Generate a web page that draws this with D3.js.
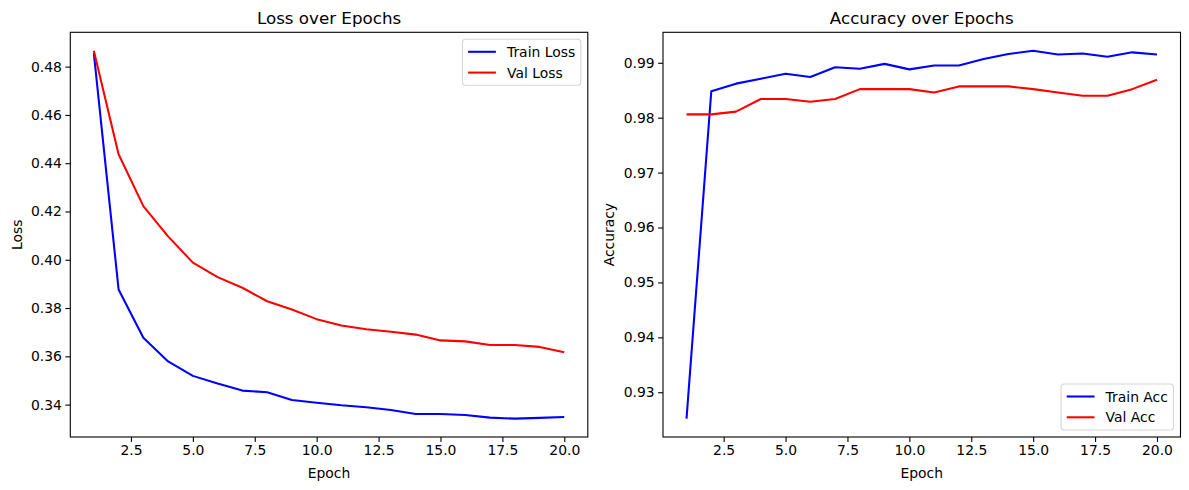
<!DOCTYPE html>
<html>
<head>
<meta charset="utf-8">
<script src="https://cdn.jsdelivr.net/npm/d3@7"></script>
<style>
  html, body { margin: 0; padding: 0; background: #fff; }
  svg { display: block; }
  text { font-family: "DejaVu Sans", sans-serif; fill: #000; }
</style>
</head>
<body>
<svg id="chart" width="1189" height="490"></svg>
<script>
const epochs = [1,2,3,4,5,6,7,8,9,10,11,12,13,14,15,16,17,18,19,20];
const trainLoss = [0.4856,0.3877,0.3677,0.3579,0.3519,0.3487,0.3458,0.3451,0.3419,0.3408,0.3397,0.3389,0.3378,0.3361,0.3361,0.3357,0.3346,0.3342,0.3345,0.3349];
const valLoss   = [0.4866,0.4437,0.4222,0.4097,0.3988,0.3928,0.3884,0.3828,0.3794,0.3754,0.3728,0.3712,0.3702,0.3690,0.3666,0.3662,0.3647,0.3647,0.3639,0.3617];
const trainAcc  = [0.9252,0.9848,0.9862,0.9871,0.9880,0.9874,0.9892,0.9889,0.9898,0.9888,0.9895,0.9895,0.9907,0.9916,0.9922,0.9915,0.9917,0.9911,0.9919,0.9915];
const valAcc    = [0.9806,0.9806,0.9811,0.9834,0.9834,0.9829,0.9834,0.9852,0.9852,0.9852,0.9846,0.9857,0.9857,0.9857,0.9852,0.9846,0.9840,0.9840,0.9852,0.9869];
const epochTicks = [2.5,5.0,7.5,10.0,12.5,15.0,17.5,20.0];
const lossTicks = [0.34,0.36,0.38,0.40,0.42,0.44,0.46,0.48];
const accTicks = [0.93,0.94,0.95,0.96,0.97,0.98,0.99];

const svg = d3.select("#chart");
const FS = 13.9;

function padded(ext) {
  const r = ext[1] - ext[0];
  return [ext[0] - 0.05 * r, ext[1] + 0.05 * r];
}

function panel(cfg) {
  const { left, right, top, bottom } = cfg.box;
  const g = svg.append("g");
  const x = d3.scaleLinear().domain(padded(d3.extent(epochs))).range([left, right]);
  const all = cfg.series.flatMap(s => s.values);
  const y = d3.scaleLinear().domain(padded(d3.extent(all))).range([bottom, top]);

  // lines
  const clipId = "clip" + cfg.id;
  svg.append("clipPath").attr("id", clipId).append("rect")
    .attr("x", left).attr("y", top).attr("width", right - left).attr("height", bottom - top);
  const line = d3.line().x((d, i) => x(epochs[i])).y(d => y(d));
  cfg.series.forEach(s => {
    g.append("path").attr("d", line(s.values)).attr("fill", "none")
      .attr("stroke", s.color).attr("stroke-width", 2.08)
      .attr("stroke-linejoin", "round").attr("stroke-linecap", "butt")
      .attr("clip-path", `url(#${clipId})`);
  });

  // axes
  const xAxis = d3.axisBottom(x).tickValues(epochTicks).tickFormat(d3.format(".1f"))
    .tickSize(4.9).tickPadding(3.5);
  const gx = g.append("g").attr("transform", `translate(0,${bottom})`).call(xAxis);
  const yAxis = d3.axisLeft(y).tickValues(cfg.yTicks).tickFormat(d3.format(".2f"))
    .tickSize(4.9).tickPadding(3.5);
  const gy = g.append("g").attr("transform", `translate(${left},0)`).call(yAxis);
  [gx, gy].forEach(a => {
    a.select(".domain").remove();
    a.selectAll(".tick line").attr("stroke", "#000").attr("stroke-width", 1.1);
    a.selectAll(".tick text").attr("fill", "#000").style("font-size", FS + "px")
      .style("font-family", "'DejaVu Sans', sans-serif");
  });

  // spines
  g.append("rect").attr("x", left).attr("y", top).attr("width", right - left).attr("height", bottom - top)
    .attr("fill", "none").attr("stroke", "#000").attr("stroke-width", 1.1);

  // titles and labels
  g.append("text").attr("x", (left + right) / 2).attr("y", top - 8.5)
    .attr("text-anchor", "middle").style("font-size", "16.7px").text(cfg.title);
  g.append("text").attr("x", (left + right) / 2).attr("y", 477.5)
    .attr("text-anchor", "middle").style("font-size", FS + "px").text("Epoch");
  g.append("text").attr("transform", `translate(${cfg.ylabelX},${(top + bottom) / 2}) rotate(-90)`)
    .attr("text-anchor", "middle").attr("dominant-baseline", "central")
    .style("font-size", FS + "px").text(cfg.ylabel);

  // legend
  const lg = g.append("g");
  const bg = lg.append("rect");
  const texts = cfg.series.map((s, i) => lg.append("text").style("font-size", FS + "px")
    .attr("dominant-baseline", "central").text(s.label));
  const tw = d3.max(texts, t => t.node().getComputedTextLength());
  const pad = 5.6, hl = 27.8, htp = 11.1, rowH = 20.8;
  const w = pad + hl + htp + tw + pad;
  const h = 46;
  const bx = right - 7 - w;
  const by = cfg.legendPos === "upper" ? top + 7 : bottom - 7 - h;
  bg.attr("x", bx).attr("y", by).attr("width", w).attr("height", h).attr("rx", 3).attr("ry", 3)
    .attr("fill", "#fff").attr("fill-opacity", 0.8).attr("stroke", "#d6d6d6").attr("stroke-width", 1.1);
  cfg.series.forEach((s, i) => {
    const cy = by + 12.5 + i * rowH;
    lg.append("line").attr("x1", bx + pad).attr("x2", bx + pad + hl).attr("y1", cy).attr("y2", cy)
      .attr("stroke", s.color).attr("stroke-width", 2.08);
    texts[i].attr("x", bx + pad + hl + htp).attr("y", cy);
  });
}

panel({
  id: "a",
  box: { left: 70.3, right: 587.8, top: 32.3, bottom: 437 },
  series: [
    { label: "Train Loss", values: trainLoss, color: "#0000ff" },
    { label: "Val Loss", values: valLoss, color: "#ff0000" }
  ],
  yTicks: lossTicks, title: "Loss over Epochs", ylabel: "Loss", ylabelX: 17, legendPos: "upper"
});
panel({
  id: "b",
  box: { left: 663, right: 1180.5, top: 32.3, bottom: 437 },
  series: [
    { label: "Train Acc", values: trainAcc, color: "#0000ff" },
    { label: "Val Acc", values: valAcc, color: "#ff0000" }
  ],
  yTicks: accTicks, title: "Accuracy over Epochs", ylabel: "Accuracy", ylabelX: 609, legendPos: "lower"
});
</script>
</body>
</html>
